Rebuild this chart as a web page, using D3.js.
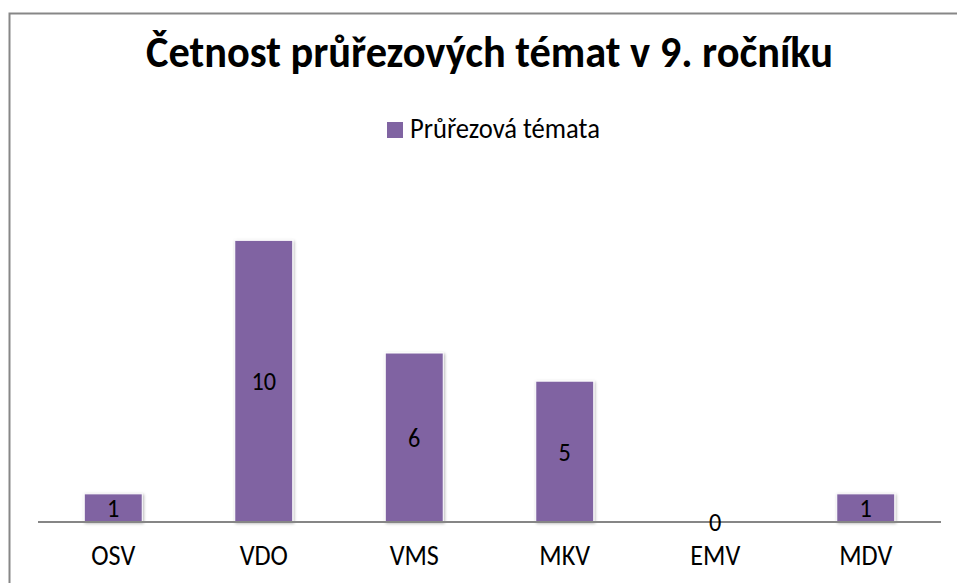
<!DOCTYPE html>
<html>
<head>
<meta charset="utf-8">
<script src="https://cdn.jsdelivr.net/npm/d3@7"></script>
<style>
  html, body { margin: 0; padding: 0; background: #fff; }
  svg { display: block; }
  text { font-family: Carlito, Calibri, Lato, "Open Sans", sans-serif; fill: #000; }
</style>
</head>
<body>
<svg id="chart" width="957" height="583"></svg>
<script>
const titleText = "Četnost průřezových témat v 9. ročníku";
const seriesName = "Průřezová témata";
const categories = ["OSV", "VDO", "VMS", "MKV", "EMV", "MDV"];
const values = [1, 10, 6, 5, 0, 1];
const yMax = 12;

const W = 957, H = 583;
const svg = d3.select("#chart");
const color = "#8064A2";

const defs = svg.append("defs");
const f = defs.append("filter").attr("id", "shadow").attr("x", "-20%").attr("y", "-20%").attr("width", "140%").attr("height", "140%");
f.append("feDropShadow").attr("dx", 1).attr("dy", 1).attr("stdDeviation", 1.6)
  .attr("flood-color", "#000").attr("flood-opacity", 0.3);

// chart border
svg.append("rect").attr("x", 9.5).attr("y", 13.5).attr("width", 1000).attr("height", 1000)
  .attr("fill", "none").attr("stroke", "#878787").attr("stroke-width", 2);

const x = d3.scaleBand().domain(categories).range([38, 941]).paddingInner(0.6146).paddingOuter(0.3073);
const y = d3.scaleLinear().domain([0, yMax]).range([522, 184]);

// fit font size so that a reference node reaches a target width, slightly enlarged then squeezed back
function fit(sel, refNode, target, grow) {
  const fs = parseFloat(sel.attr("font-size"));
  const w = refNode.getComputedTextLength();
  const nfs = fs * target / w * grow;
  sel.attr("font-size", nfs);
  const k = 1 / grow;
  sel.each(function () {
    const ww = this.getComputedTextLength();
    this.setAttribute("textLength", ww * k);
    this.setAttribute("lengthAdjust", "spacingAndGlyphs");
  });
}

// title
const title = svg.append("text").attr("x", 489.5).attr("y", 67).attr("text-anchor", "middle")
  .attr("font-weight", "bold").attr("font-size", 36).text(titleText);
fit(title, title.node(), 687, 1.04);

// legend
svg.append("rect").attr("x", 387).attr("y", 122).attr("width", 16).attr("height", 16).attr("fill", color);
const leg = svg.append("text").attr("x", 410).attr("y", 138).attr("font-size", 20).text(seriesName);
fit(leg, leg.node(), 190, 1.04);

// bars
svg.append("g").selectAll("rect").data(values).join("rect")
  .attr("x", (d, i) => x(categories[i]))
  .attr("y", d => y(d))
  .attr("width", x.bandwidth())
  .attr("height", d => y(0) - y(d))
  .attr("fill", color)
  .attr("stroke", d => d > 0 ? "#fff" : "none")
  .attr("stroke-width", 1)
  .attr("filter", "url(#shadow)");

// axis
const axis = svg.append("g").attr("transform", `translate(0,${y(0)})`)
  .call(d3.axisBottom(x).tickSize(0).tickPadding(0));
axis.select(".domain").attr("stroke", "#868686").attr("stroke-width", 2).attr("d", "M38,0H941");
const ticks = axis.selectAll(".tick text").attr("font-family", "Carlito, Calibri, Lato, 'Open Sans', sans-serif")
  .attr("font-size", 24).attr("fill", "#000").attr("dy", 0).attr("y", 42.5);
fit(ticks, ticks.node(), 44, 1.06);

// data labels
const lbl = svg.append("g").selectAll("text").data(values).join("text")
  .attr("x", (d, i) => x(categories[i]) + x.bandwidth() / 2)
  .attr("y", d => (y(d) + y(0)) / 2)
  .attr("dy", "0.36em")
  .attr("text-anchor", "middle")
  .attr("font-size", 24)
  .text(d => d);
fit(lbl, lbl.filter(d => d === 10).node(), 24.6, 1.06);
</script>
</body>
</html>
